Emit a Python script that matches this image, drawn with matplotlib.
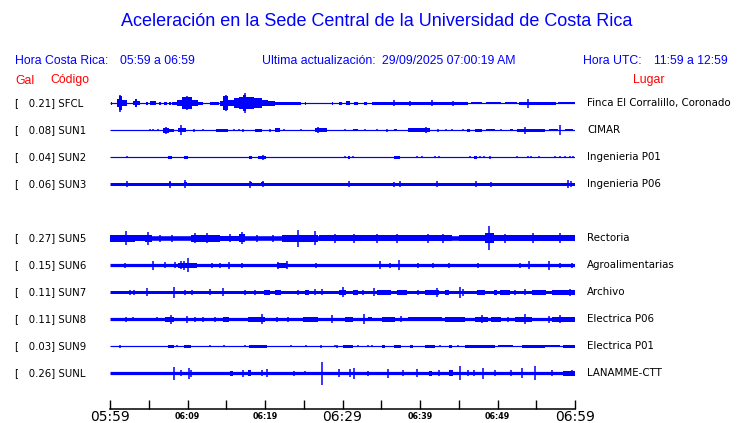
import numpy as np
import matplotlib
matplotlib.use("Agg")
import matplotlib.pyplot as plt
from matplotlib.transforms import blended_transform_factory

# station table (row 4 is left empty, like the original page)
CODES = ["SFCL", "SUN1", "SUN2", "SUN3", "SUN5", "SUN6", "SUN7", "SUN8", "SUN9", "SUNL"]
PLACES = ["Finca El Corralillo, Coronado", "CIMAR", "Ingenieria P01", "Ingenieria P06",
          "Rectoria", "Agroalimentarias", "Archivo", "Electrica P06", "Electrica P01",
          "LANAMME-CTT"]
GAL = [0.21, 0.08, 0.04, 0.06, 0.27, 0.15, 0.11, 0.11, 0.03, 0.26]
ROWS = [0, 1, 2, 3, 5, 6, 7, 8, 9, 10]

# half width of the quiet trace (screen px)
BASE = [0.6, 0.6, 0.6, 1.5, 2.3, 1.6, 1.5, 1.6, 0.6, 1.6]

# bursts: (start minute, end minute, half height px) ; spikes: (minute, half height px)
SFCL_BURSTS = [(0.1, 0.3, 1.5), (0.9, 1.3, 4), (1.1, 1.6, 7), (1.6, 2.2, 3), (3.0, 3.9, 2),
               (3.2, 3.5, 4), (4.6, 4.9, 1.5), (5.2, 5.9, 2), (6.3, 6.6, 1.5), (7.0, 7.3, 1.5),
               (7.6, 7.9, 1.5), (8.0, 8.6, 1.5), (8.6, 9.3, 3), (9.3, 10.6, 6), (10.6, 11.4, 3),
               (11.4, 12.0, 1.5), (12.9, 14.0, 1.5), (14.2, 14.6, 2.5), (14.6, 15.2, 7),
               (15.2, 16.0, 3), (16.0, 16.7, 5), (16.7, 17.2, 6), (17.2, 17.6, 8), (17.6, 18.6, 6),
               (18.6, 19.6, 5), (19.6, 20.4, 3), (20.4, 21.3, 2.5), (21.3, 24.7, 1.3),
               (25.1, 25.3, 1.5), (28.6, 28.8, 1.5), (29.5, 29.9, 1.5), (30.5, 31.0, 2),
               (31.5, 32.0, 1.5), (32.8, 33.2, 1.5), (33.8, 46.2, 1.4), (46.6, 48.0, 1.2),
               (48.5, 50.5, 1.2), (51.0, 52.5, 1.2), (52.8, 57.5, 1.4), (57.8, 60.0, 1.2)]
SFCL_SPIKES = [(1.3, 8.5), (9.9, 7), (15.0, 8), (17.4, 10), (36.6, 3), (38.7, 2.5), (41.5, 3),
               (44.3, 2.5), (53.9, 4.5)]

SUN1_BURSTS = [(6.9, 7.6, 2.5), (7.6, 8.2, 1.5), (8.8, 9.8, 2.2), (13.7, 15.2, 1.5), (18.7, 19.6, 1.6),
               (21.3, 21.9, 2.2), (26.5, 28.0, 1.8), (31.4, 32.0, 1.2), (36.6, 37.0, 1), (38.5, 41.3, 1.8),
               (46.0, 46.5, 1.5), (47.1, 48.0, 1.5), (48.5, 49.7, 1), (51.6, 52.0, 1.2),
               (52.5, 56.1, 1.6), (56.6, 57.8, 1.2), (58.7, 59.8, 1.2)]
SUN1_SPIKES = [(5.1, 1), (5.5, 1), (6.2, 1), (7.2, 3.5), (9.1, 5), (10.9, 1.5), (12.0, 1), (16.0, 1),
               (16.6, 1), (17.2, 1.5), (20.6, 1.5), (22.4, 1), (24.7, 1), (26.9, 3), (30.3, 1.2),
               (32.9, 1), (34.5, 1), (35.7, 1.5), (40.8, 3), (42.3, 1.5), (43.4, 1), (44.1, 1),
               (45.6, 1), (50.5, 1.2), (53.5, 3.5), (58.0, 5)]

SUN2_BURSTS = [(7.5, 8.0, 1.5), (9.5, 10.0, 1.5), (17.9, 18.3, 1.5), (19.1, 20.1, 1.5),
               (30.7, 31.0, 1.5), (36.7, 37.4, 1.5), (47.0, 47.3, 1.5)]
SUN2_SPIKES = [(2.2, 1), (19.8, 2.5), (30.3, 1.2), (31.3, 1), (39.6, 1), (40.2, 1), (41.9, 1),
               (42.4, 1), (46.5, 1), (47.7, 1), (48.3, 1.2), (49.0, 1.5), (52.5, 1), (53.9, 1),
               (54.3, 1), (55.3, 1), (57.4, 1.2), (58.1, 1.2), (58.7, 1.2), (59.4, 1.2), (59.8, 1.2)]

SUN3_BURSTS = [(7.6, 7.9, 2.2), (9.5, 9.9, 2.2), (18.0, 18.3, 2.2), (19.5, 19.9, 2)]
SUN3_SPIKES = [(2.2, 3), (7.7, 3.5), (9.7, 4), (18.1, 3.5), (19.7, 3), (30.8, 3), (36.7, 2.5),
               (37.4, 3), (42.2, 3), (47.2, 3), (49.2, 2.5), (59.1, 4), (59.5, 3)]

SUN5_BURSTS = [(0.0, 3.2, 3.8), (3.2, 4.5, 3.0), (4.5, 5.4, 3.8), (10.4, 14.2, 3.4), (14.2, 16.6, 2.8),
               (16.6, 17.4, 4.2), (22.2, 26.9, 3.4), (27.0, 44.1, 2.9), (45.0, 48.4, 2.9),
               (48.4, 49.5, 5), (49.5, 60.0, 2.9)]
SUN5_SPIKES = [(2.0, 7), (4.9, 6.5), (6.5, 3.5), (8.0, 3.5), (11.0, 5), (12.5, 5), (15.5, 4),
               (17.0, 6), (19.0, 3.5), (21.0, 3.5), (24.3, 8.5), (26.5, 7), (29.0, 4.5), (31.5, 4.5),
               (34.5, 4.5), (37.0, 4.5), (41.0, 4.5), (43.0, 4.5), (48.9, 12), (51.0, 4.5),
               (54.6, 5), (58.1, 5)]

SUN6_BURSTS = [(8.8, 11.2, 2.3), (21.5, 22.9, 2.3)]
SUN6_SPIKES = [(1.9, 2.5), (5.5, 4.5), (7.1, 3), (8.4, 3), (9.2, 4), (9.5, 4.5), (10.0, 7),
               (13.1, 2.5), (14.2, 2.5), (15.4, 3.5), (17.0, 2.5), (21.7, 3.5), (22.8, 4),
               (26.6, 2.5), (34.8, 4), (36.1, 2.5), (37.3, 5), (39.8, 2.5), (41.7, 2.5), (43.7, 2.5),
               (47.5, 2.5), (52.9, 2.5), (54.1, 4), (56.7, 4.5), (58.1, 2.5), (59.6, 2.5)]

SUN7_BURSTS = [(19.9, 20.6, 2.2), (21.3, 22.1, 2.6), (25.2, 25.7, 2.6), (29.5, 30.5, 2.2),
               (31.4, 32.0, 2.2), (34.4, 36.3, 2.2), (37.0, 38.3, 2.2), (40.6, 42.4, 2.6),
               (43.2, 43.7, 2.2), (47.3, 48.4, 2.2), (49.5, 49.9, 2.2), (50.3, 51.6, 2.2),
               (54.4, 56.3, 2.2), (57.0, 60.0, 2.2)]
SUN7_SPIKES = [(2.6, 2.5), (3.1, 2.5), (4.8, 4), (8.2, 5.5), (9.7, 2.5), (10.6, 2.5), (12.9, 3),
               (14.6, 4), (17.4, 2.5), (18.7, 2.5), (24.2, 2.5), (26.5, 3), (27.3, 3), (30.0, 5),
               (32.7, 2.5), (34.0, 4), (39.8, 2.5), (42.2, 4.5), (45.1, 5.5), (45.6, 3.5),
               (52.3, 2.5), (53.5, 3), (59.4, 3.5)]

SUN8_BURSTS = [(7.1, 8.2, 2.2), (14.6, 15.3, 2.2), (17.8, 20.0, 2.6), (24.9, 26.9, 2.2),
               (30.3, 31.4, 2.2), (33.3, 33.8, 2), (35.1, 36.8, 2.6), (38.5, 42.8, 2.1),
               (43.2, 45.8, 2.2), (47.1, 48.8, 2.6), (49.2, 50.5, 2.2), (52.3, 54.4, 2.6), (57.0, 60.0, 2.2)]
SUN8_SPIKES = [(2.0, 2.5), (3.0, 2), (6.0, 2), (7.9, 4.5), (9.9, 3.5), (11.0, 2.5), (12.0, 2.5),
               (13.5, 2.5), (19.6, 5), (21.5, 2.5), (23.0, 2.5), (28.6, 4), (32.8, 5), (37.6, 3),
               (48.0, 4), (51.4, 2.5), (53.6, 5), (56.6, 3.5), (58.1, 4)]

SUN9_BURSTS = [(7.5, 8.2, 1.5), (9.5, 10.5, 1.5), (17.9, 20.2, 1.4), (30.1, 31.4, 1.4),
               (35.1, 35.5, 1.2), (36.6, 37.6, 1.2), (38.7, 39.1, 1.2), (40.6, 41.9, 1.4),
               (43.7, 44.1, 1.2), (45.8, 49.7, 1.3), (50.1, 52.0, 1.1), (53.1, 56.1, 1.3),
               (56.1, 58.1, 1.1), (58.5, 60.0, 1.6)]
SUN9_SPIKES = [(1.3, 1.5), (8.6, 1), (12.9, 1), (14.7, 1), (17.4, 1), (23.4, 1), (25.3, 1),
               (27.2, 1.2), (29.0, 1), (29.3, 1.5), (32.0, 1), (33.3, 1), (33.8, 1), (42.6, 1), (44.9, 1)]

SUNL_BURSTS = [(15.5, 15.9, 2.5), (17.8, 18.2, 3), (41.1, 41.5, 2.5), (43.7, 44.3, 3), (58.5, 60.0, 2.3)]
SUNL_SPIKES = [(8.3, 6.5), (9.2, 3), (10.2, 5.5), (10.4, 3.5), (17.1, 3.5), (19.6, 3), (20.2, 4),
               (23.7, 2.5), (25.2, 2), (27.3, 11.5), (29.6, 4), (31.0, 4), (31.5, 5.5), (33.3, 2.5),
               (35.9, 4.5), (37.8, 3), (39.6, 4), (42.4, 3), (45.2, 7), (46.2, 3), (47.0, 3),
               (48.1, 5.5), (49.7, 3), (51.8, 3), (53.2, 5), (54.8, 7), (57.0, 3), (59.6, 3)]

BURSTS = [SFCL_BURSTS, SUN1_BURSTS, SUN2_BURSTS, SUN3_BURSTS, SUN5_BURSTS,
          SUN6_BURSTS, SUN7_BURSTS, SUN8_BURSTS, SUN9_BURSTS, SUNL_BURSTS]
SPIKES = [SFCL_SPIKES, SUN1_SPIKES, SUN2_SPIKES, SUN3_SPIKES, SUN5_SPIKES,
          SUN6_SPIKES, SUN7_SPIKES, SUN8_SPIKES, SUN9_SPIKES, SUNL_SPIKES]

TICKS = list(range(0, 61, 5))
TICK_LABELS = ["05:59", "", "06:09", "", "06:19", "", "06:29", "", "06:39", "", "06:49", "", "06:59"]

W, H = 740, 423
ROW_PX = 27.0
BLUE = "#0000ff"

fig = plt.figure(figsize=(W / 100, H / 100), dpi=100)

top_px, bot_px = 103.3 - 0.6 * ROW_PX, 409
ax = fig.add_axes([110 / W, 1 - bot_px / H, 465 / W, (bot_px - top_px) / H])
ax.set_xlim(0, 60)
ax.set_ylim((bot_px - 103.3) / ROW_PX, -0.6)
for s in ["top", "left", "right"]:
    ax.spines[s].set_visible(False)
ax.spines["bottom"].set_linewidth(1.1)
ax.set_yticks([])
ax.set_xticks(TICKS)
ax.set_xticklabels(TICK_LABELS)
ax.tick_params(axis="x", direction="in", length=6.5, width=1.0, pad=5.5)
for lab, txt in zip(ax.get_xticklabels(), TICK_LABELS):
    lab.set_va("center")
    if txt in ("05:59", "06:29", "06:59"):
        lab.set_fontsize(10)
    else:
        lab.set_fontsize(5.8)
        lab.set_fontweight("bold")

px2row = 1.0 / ROW_PX
for row, base, bursts, spikes in zip(ROWS, BASE, BURSTS, SPIKES):
    ax.hlines(row, 0, 60, color=BLUE, lw=max(1.0, 2 * base) * 0.72)
    b = np.array(bursts, dtype=float)
    ax.bar(b[:, 0], 2 * b[:, 2] * px2row, width=b[:, 1] - b[:, 0],
           bottom=row - b[:, 2] * px2row, align="edge", color=BLUE, lw=0)
    s = np.array(spikes, dtype=float)
    ax.vlines(s[:, 0], row - s[:, 1] * px2row, row + s[:, 1] * px2row, color=BLUE, lw=1.1)

# row labels left and right of the traces
left_tr = blended_transform_factory(fig.transFigure, ax.transData)
for row, code, place, g in zip(ROWS, CODES, PLACES, GAL):
    ax.text(15 / W, row, "[   %.2f] %s" % (g, code), transform=left_tr, fontsize=7.3,
            family="DejaVu Sans", va="center", ha="left")
    ax.text(587 / W, row, place, transform=left_tr, fontsize=7.4,
            family="DejaVu Sans", va="center", ha="left")

# header
hdr = dict(family="Liberation Sans", color=BLUE, va="center", ha="left", fontsize=8.8)
fig.text(377 / W, 1 - 22 / H, "Aceleración en la Sede Central de la Universidad de Costa Rica",
         family="Liberation Sans", color=BLUE, fontsize=13, ha="center", va="center")
fig.text(15 / W, 1 - 61 / H, "Hora Costa Rica:", **hdr)
fig.text(120 / W, 1 - 61 / H, "05:59 a 06:59", **hdr)
fig.text(262 / W, 1 - 61 / H, "Ultima actualización:", **hdr)
fig.text(382 / W, 1 - 61 / H, "29/09/2025 07:00:19 AM", **hdr)
fig.text(583 / W, 1 - 61 / H, "Hora UTC:", **hdr)
fig.text(654 / W, 1 - 61 / H, "11:59 a 12:59", **hdr)
red = dict(hdr, color="red")
fig.text(15 / W, 1 - 80.5 / H, "Gal", **red)
fig.text(50 / W, 1 - 80.5 / H, "Código", **red)
fig.text(633 / W, 1 - 80.5 / H, "Lugar", **red)

fig.savefig("out.png", dpi=100)
